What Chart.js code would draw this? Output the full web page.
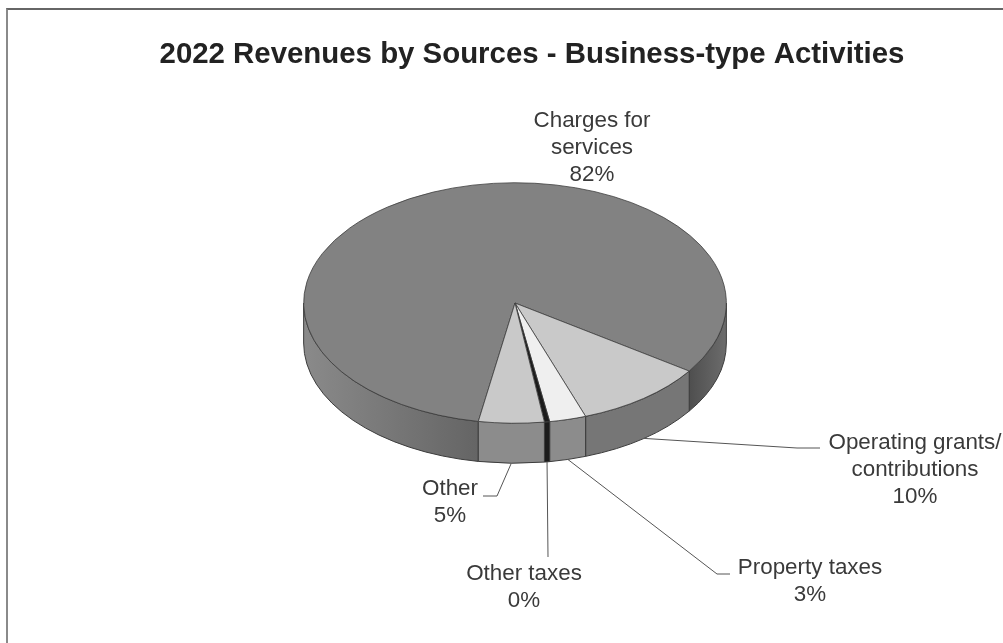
<!DOCTYPE html>
<html>
<head>
<meta charset="utf-8">
<title>2022 Revenues by Sources</title>
<script src="https://cdn.jsdelivr.net/npm/chart.js@4"></script>
<style>
  html, body { margin: 0; padding: 0; background: #fff; overflow: hidden; }
  #frame { position: absolute; left: 6px; top: 8px; right: 0; bottom: 0; border-top: 2px solid #666; border-left: 2px solid #8a8a8a; }
  #revenueChart { position: absolute; left: 0; top: 0; filter: blur(0.45px); }
</style>
</head>
<body>
<div id="frame"></div>
<canvas id="revenueChart" width="1003" height="643"></canvas>
<script>
const chartTitle = '2022 Revenues by Sources - Business-type Activities';
const categories = [['Charges for', 'services'], ['Operating grants/', 'contributions'], ['Property taxes'], ['Other taxes'], ['Other']];
const shares = [81.8, 10, 2.8, 0.4, 5];
const topColors = ['#828282', '#c9c9c9', '#efefef', '#1c1c1c', '#c9c9c9'];
const wallColors = ['#6e6e6e', '#767676', '#8c8c8c', '#1c1c1c', '#8c8c8c'];

// where the pie sits on the page, it is squashed and given a side wall by the plugin below
const pieX = 515;
const pieY = 303;
const squash = 0.569;
const depth = 40;

// label anchor (centre x, first line y) and the leader bends, same order as categories
const labelAnchors = [[592, 121], [915, 443], [810, 568], [524, 574], [450, 489]];
const leaderBends = [[], [[797, 448], [820, 448]], [[717, 574], [730, 574]], [[548, 557]], [[497, 496], [483, 496]]];
const lineHeight = 27;

// part of an arc that faces the viewer, arc angles can run past a full turn
function frontRanges(start, end) {
  const ranges = [];
  [0, Math.PI * 2].forEach(turn => {
    const a = Math.max(start, turn);
    const b = Math.min(end, turn + Math.PI);
    if (b > a) ranges.push([a, b]);
  });
  return ranges;
}

const pie3d = {
  id: 'pie3d',
  beforeDatasetDraw(chart, args) {
    const ctx = chart.ctx;
    const arcs = chart.getDatasetMeta(args.index).data;
    const ry = arcs[0].outerRadius * squash;
    const rx = arcs[0].outerRadius;

    arcs.forEach((arc, i) => {
      frontRanges(arc.startAngle, arc.endAngle).forEach(([a, b]) => {
        ctx.beginPath();
        ctx.ellipse(pieX, pieY, rx, ry, 0, a, b);
        ctx.ellipse(pieX, pieY + depth, rx, ry, 0, b, a, true);
        ctx.closePath();
        if (i === 0) {
          // the big slice gets lit from the left
          const g = ctx.createLinearGradient(pieX - rx, 0, pieX + rx, 0);
          g.addColorStop(0, '#8a8a8a');
          g.addColorStop(0.41, '#656565');
          g.addColorStop(0.91, '#4e4e4e');
          g.addColorStop(1, '#6c6c6c');
          ctx.fillStyle = g;
        } else {
          ctx.fillStyle = wallColors[i];
        }
        ctx.strokeStyle = '#3c3c3c';
        ctx.lineWidth = 1;
        ctx.fill();
        ctx.stroke();
      });
    });

    ctx.save();
    ctx.translate(pieX, pieY);
    ctx.scale(1, squash);
    ctx.translate(-arcs[0].x, -arcs[0].y);
  },
  afterDatasetDraw(chart) {
    chart.ctx.restore();
  },
  afterDatasetsDraw(chart) {
    const ctx = chart.ctx;
    const arcs = chart.getDatasetMeta(0).data;
    const total = shares.reduce((sum, v) => sum + v, 0);

    arcs.forEach((arc, i) => {
      const mid = (arc.startAngle + arc.endAngle) / 2;

      if (leaderBends[i].length) {
        ctx.beginPath();
        ctx.moveTo(pieX + arc.outerRadius * Math.cos(mid), pieY + depth + arc.outerRadius * squash * Math.sin(mid));
        leaderBends[i].forEach(p => ctx.lineTo(p[0], p[1]));
        ctx.strokeStyle = '#555';
        ctx.lineWidth = 1;
        ctx.stroke();
      }

      const lines = categories[i].concat(Math.round(shares[i] / total * 100) + '%');
      ctx.font = '22.4px "Liberation Sans"';
      ctx.fillStyle = '#3a3a3a';
      ctx.textAlign = 'center';
      ctx.textBaseline = 'middle';
      lines.forEach((line, n) => {
        ctx.fillText(line, labelAnchors[i][0], labelAnchors[i][1] + n * lineHeight);
      });
    });
  }
};

new Chart(document.getElementById('revenueChart'), {
  type: 'pie',
  data: {
    labels: categories,
    datasets: [{
      data: shares,
      backgroundColor: topColors,
      borderColor: '#3c3c3c',
      borderWidth: 1,
      clip: false
    }]
  },
  options: {
    responsive: false,
    animation: false,
    rotation: 190,
    layout: {
      padding: { left: 150, right: 89, top: 0, bottom: 147 }
    },
    plugins: {
      legend: { display: false },
      tooltip: { enabled: false },
      title: {
        display: true,
        text: chartTitle,
        color: '#222',
        font: { family: '"Liberation Sans"', size: 29.4, weight: 'bold' },
        padding: { top: 37, bottom: 0 }
      }
    }
  },
  plugins: [pie3d]
});
</script>
</body>
</html>
